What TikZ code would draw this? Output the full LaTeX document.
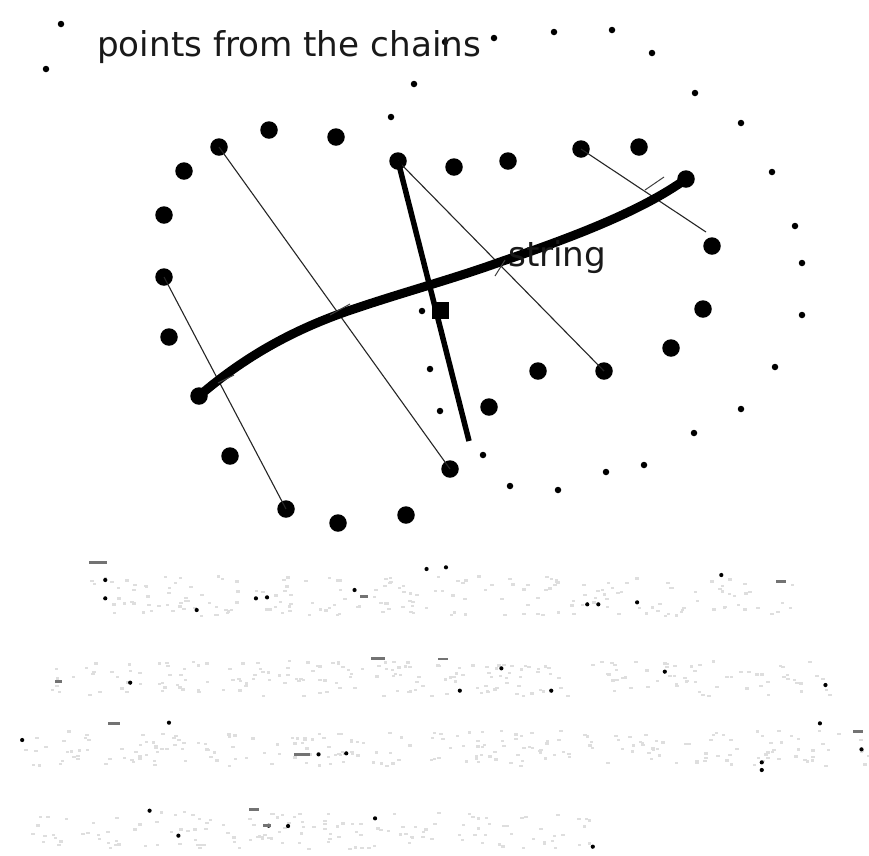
\documentclass[tikz,border=0pt]{standalone}
\usepackage{fontspec}
\setmainfont{DejaVu Sans}
\tikzset{
  big/.style={circle,fill=black,inner sep=0pt,minimum size=17.5pt},
  small/.style={circle,fill=black,inner sep=0pt,minimum size=6.5pt},
  sq/.style={rectangle,fill=black,inner sep=0pt,minimum size=17pt},
  thinline/.style={draw=black!85,line width=1.1pt},
  tick/.style={draw=black!75,line width=1pt},
  chordline/.style={draw=black,line width=5.5pt},
  stringline/.style={draw=black,line width=9pt,line cap=round},
  lab/.style={text=black!90,font=\fontsize{34.2}{37}\selectfont,inner sep=0pt,anchor=base west},
  speck/.style={fill=black,draw=none},
  smudge/.style={fill=black!13,draw=none}
}
\begin{document}
\begin{tikzpicture}[x=1pt,y=-1pt]
\useasboundingbox (0,0) rectangle (869,855);
\fill[white] (0,0) rectangle (869,855);
% pale remains of the faded text
\pgfmathsetseed{7}
\foreach \xa/\xb/\ya/\yb/\n in {90/800/575/615/200, 50/830/660/695/220, 20/869/730/765/240, 30/590/810/848/150}{
  \foreach \i in {1,...,\n}{
    \pgfmathsetmacro{\px}{\xa+rnd*(\xb-\xa)}
    \pgfmathsetmacro{\py}{\ya+rnd*(\yb-\ya)}
    \fill[smudge] (\px,\py) rectangle ++(3.5,2.2);
  }
}
% dark specks
\foreach \p/\q in {190/175,355/210,482/172,462/175,770/87,805/82,1302/105,1060/193,1080/193,1150/187,235/428,1490/435,830/452,995/452,305/548,40/600,1375/667,1375/690,1480/550,1555/628,575/643,625/640,270/812,677/835,485/857,520/858,322/887,1070/920,190/120,640/150,1200/395,905/385}{
  \fill[speck] ({\p*0.554},{540+\q/3}) circle (2.1pt);
}
\foreach \p/\q/\w in {160/68/18,1400/125/10,790/357/10,670/355/14,195/550/12,1540/575/10,530/643/16,450/808/10,650/170/8,475/857/8,100/425/7}{
  \fill[black!55] ({\p*0.554},{540+\q/3-1.2}) rectangle ++(\w,2.4);
}
% small dots of the outer chain
\foreach \n/\x/\y in {s1/61/24,s2/46/69,s3/445/42,s4/494/38,s5/554/32,s6/612/30,s7/652/53,s8/695/93,s9/741/123,s10/772/172,s11/795/226,s12/802/263,s13/802/315,s14/775/367,s15/741/409,s16/694/433,s17/644/465,s18/606/472,s19/558/490,s20/510/486,s21/483/455,s22/440/411,s23/430/369,s24/422/311,s25/414/84,s26/391/117}{
  \node[small] (\n) at (\x,\y) {};
}
% large dots of the inner chain
\foreach \n/\x/\y in {b1/219/147,b2/269/130,b3/336/137,b4/184/171,b5/164/215,b6/164/277,b7/169/337,b8/199/396,b9/230/456,b10/286/509,b11/338/523,b12/406/515,b13/450/469,b14/489/407,b15/538/371,b16/604/371,b17/671/348,b18/703/309,b19/712/246,b20/686/179,b21/639/147,b22/581/149,b23/508/161,b24/454/167,b25/398/161}{
  \node[big] (\n) at (\x,\y) {};
}
\node[sq] (mid) at (440,310) {};
\coordinate (rend) at (706,232);
\coordinate (chordend) at (469,441);
% thin chords
\draw[thinline] (b1.center) -- (b13.center);
\draw[thinline] (b6.center) -- (b10.center);
\draw[thinline] (b25.center) -- (b16.center);
\draw[thinline] (b22.center) -- (rend);
% thick chord
\draw[chordline] (b25.center) -- (chordend);
% string
\draw[stringline] (b8.center) .. controls (250,352) and (300,328) .. (345,312)
  .. controls (400,293) and (450,280) .. (500,262)
  .. controls (570,238) and (640,212) .. (b20.center);
% right-angle ticks
\coordinate (t1a) at (645,190); \coordinate (t1b) at (664,177);
\coordinate (t2a) at (330,315); \coordinate (t2b) at (350,304);
\coordinate (t3a) at (495,276); \coordinate (t3b) at (505,260);
\coordinate (t4a) at (218,383); \coordinate (t4b) at (234,375);
\draw[tick] (t1a) -- (t1b);
\draw[tick] (t2a) -- (t2b);
\draw[tick] (t3a) -- (t3b);
\draw[tick] (t4a) -- (t4b);
% labels
\node[lab] (title) at (97,56) {points from the chains};
\node[lab] (strlab) at (508,266) {string};
\end{tikzpicture}
\end{document}
